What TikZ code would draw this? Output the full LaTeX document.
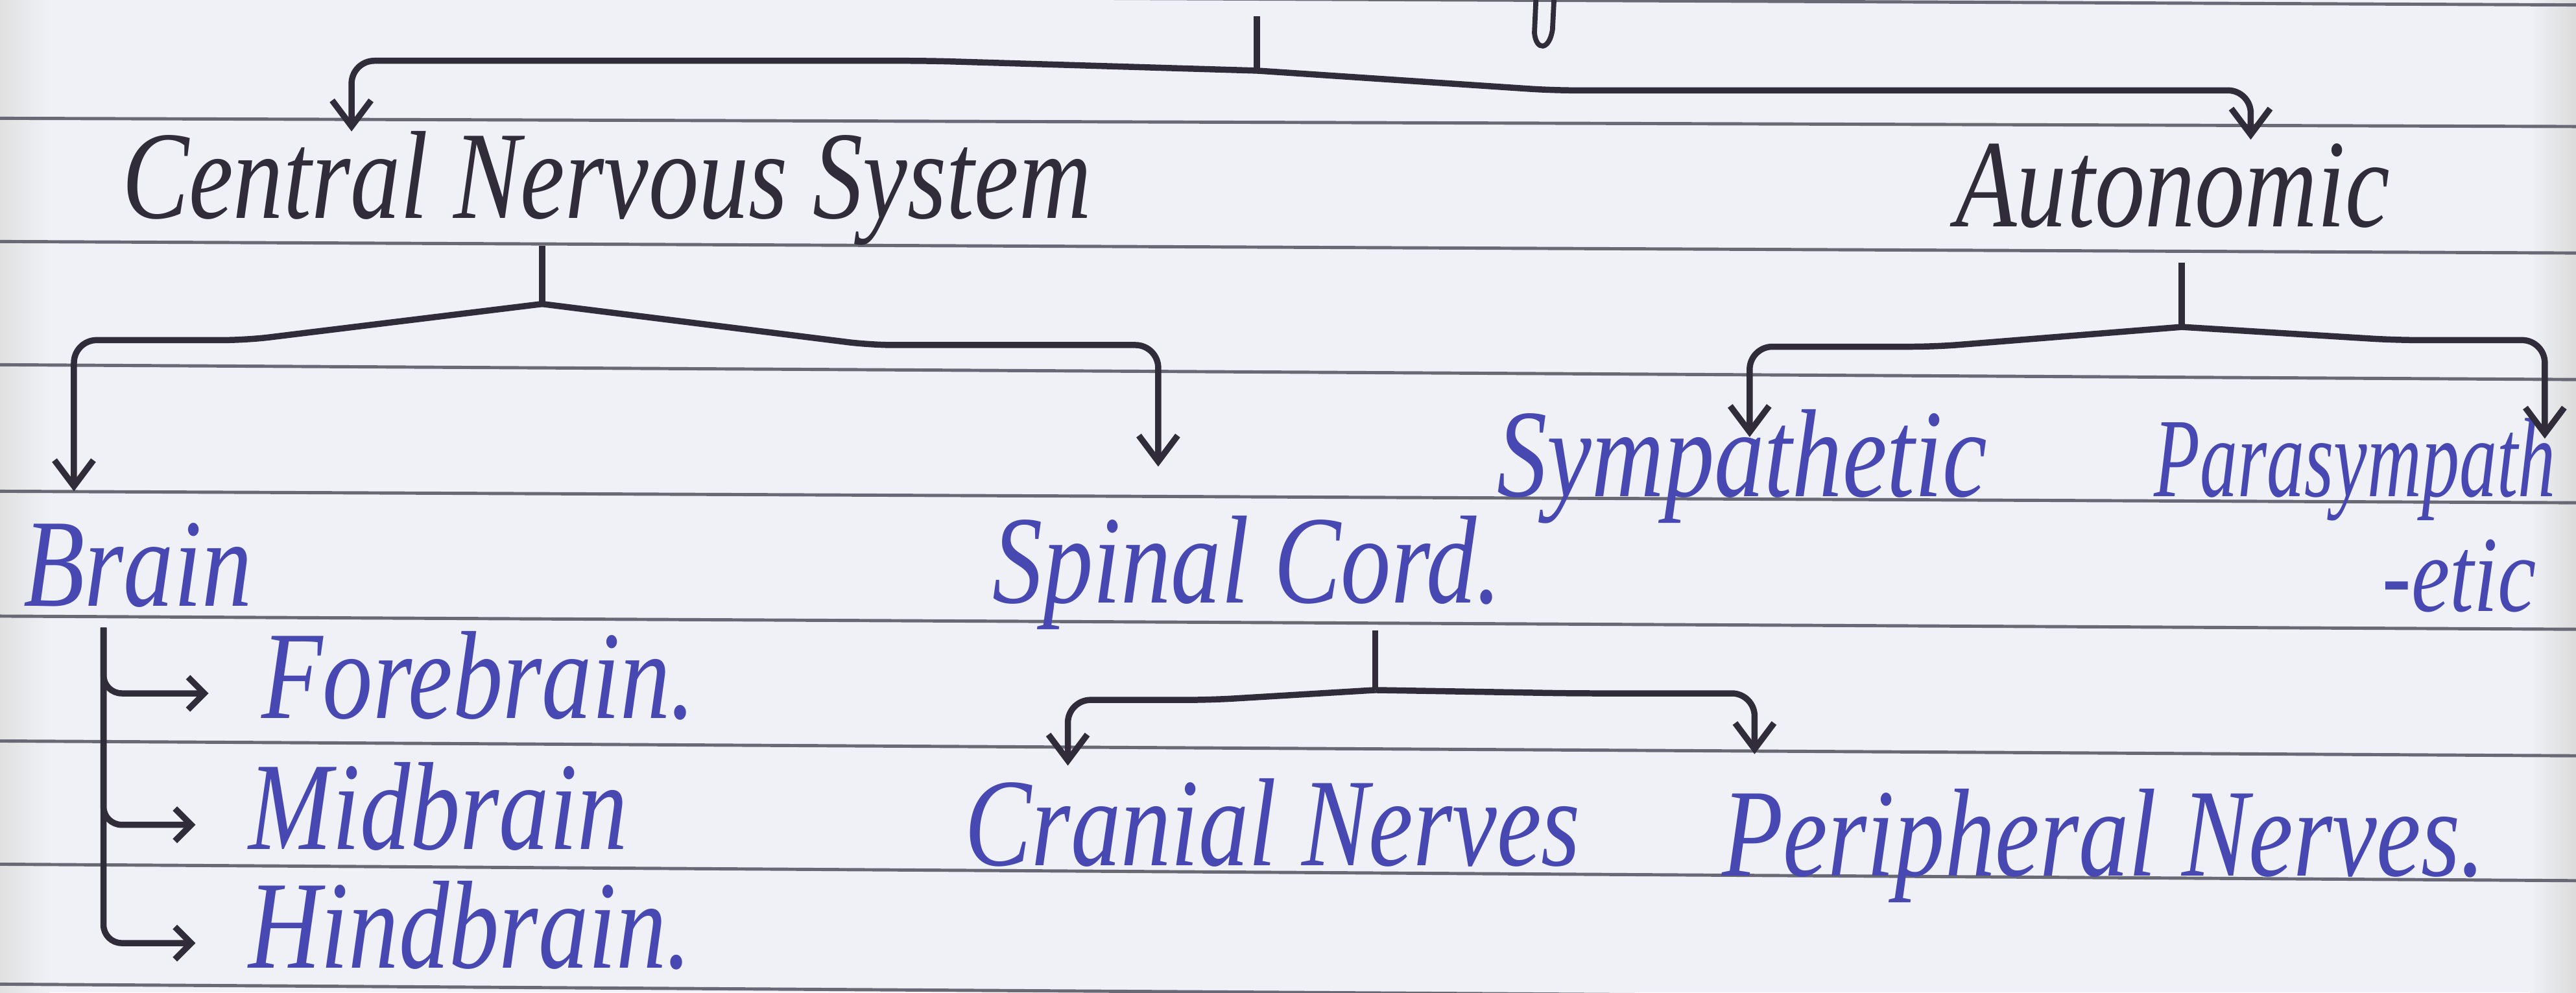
\documentclass[tikz,border=0pt]{standalone}
\usepackage{graphicx}
\usepackage{fontspec}
\setmainfont{Liberation Serif}
\usetikzlibrary{arrows.meta,calc}

\definecolor{paper}{RGB}{239,241,246}
\definecolor{ruling}{RGB}{105,105,118}
\definecolor{pencil}{RGB}{48,44,58}
\definecolor{bluepen}{RGB}{72,72,178}

% handwriting is taller than the font
\newcommand{\tallhand}[1]{\scalebox{1}[1.25]{#1}}

\tikzset{
  hand/.style={font=\fontsize{44}{50}\selectfont\itshape, inner sep=0pt, anchor=base west},
  blackword/.style={hand, text=pencil},
  blueword/.style={hand, text=bluepen},
  stem/.style={draw=pencil, line width=2.7pt},
  branch/.style={stem, rounded corners=10pt, -{Straight Barb[length=4mm,width=6mm]}},
  subbranch/.style={stem, rounded corners=8pt, -{Straight Barb[length=2.5mm,width=5mm]}},
}

\begin{document}
\begin{tikzpicture}[x=0.02533cm, y=-0.02533cm] % units = pixels of the page, y down

        % Page size
        \def\sheetw{1568}
        \def\sheeth{604}

        \useasboundingbox (0,0) rectangle (\sheetw,\sheeth);
        \clip (0,0) rectangle (\sheetw,\sheeth);
        \fill[paper] (0,0) rectangle (\sheetw,\sheeth);
        \shade[left color=black!12, right color=paper] (0,0) rectangle (30,\sheeth);
        \shade[left color=paper, right color=black!14] (1540,0) rectangle (\sheetw,\sheeth);

        % Ruled lines (left end / right end)
        \foreach \yl/\yr in {-4/3, 72/77, 147/154, 222/231, 299/306, 375/383, 451/460, 526/536, 599/609} {
            \draw[ruling, line width=1.4pt] (0,\yl) -- (\sheetw,\yr);
        }

        % stroke of the heading above
        \draw[pencil, line width=2.2pt] (935,-2) -- (934,20) .. controls (935,31) and (943,31) .. (945,18) -- (946,-2);

        % Words
        \node[blackword] (cns) at (74,133) {\tallhand{Central Nervous System}};
        \node[blackword] (auto) at (1190,138) {\tallhand{Autonomic}};
        \node[blueword] (brain) at (14,369) {\tallhand{Brain}};
        \node[blueword] (spinal) at (604,367) {\tallhand{Spinal Cord.}};
        \node[blueword] (symp) at (911,302) {\tallhand{Sympathetic}};
        \node[blueword, font=\fontsize{33}{40}\selectfont\itshape] (para) at (1311,302) {\scalebox{1}[1.5]{Parasympath}};
        \node[blueword, font=\fontsize{38}{46}\selectfont\itshape] (paraend) at (1450,372) {\tallhand{-etic}};
        \node[blueword] (fore) at (159,437) {\tallhand{Forebrain.}};
        \node[blueword] (mid) at (151,517) {\tallhand{Midbrain}};
        \node[blueword] (hind) at (151,589) {\tallhand{Hindbrain.}};
        \node[blueword] (cranial) at (587,527) {\tallhand{Cranial Nerves}};
        \node[blueword] (periph) at (1048,533) {\tallhand{Peripheral Nerves.}};

        % From the heading
        \coordinate (topend) at (765,10);
        \coordinate (topsplit) at (765,43);
        \draw[stem] (topend) -- (topsplit);
        \draw[branch] (topsplit) -- ++(-200,-6) -| ($(cns.base west)+(140,-53)$);
        \draw[branch] (topsplit) -- ++(180,12) -| ($(auto.base west)+(180,-53)$);

        % Central Nervous System
        \coordinate (cnssplit) at ($(cns.base west)+(256,52)$);
        \draw[stem] (cns.south -| cnssplit) -- (cnssplit);
        \draw[branch] (cnssplit) -- ++(-180,22) -| ($(brain.base west)+(31,-70)$);
        \draw[branch] (cnssplit) -- ++(200,25) -| ($(spinal.base west)+(101,-83)$);

        % Autonomic
        \coordinate (autosplit) at ($(auto.base west)+(138,61)$);
        \draw[stem] ($(auto.base west)+(138,22)$) -- (autosplit);
        \draw[branch] (autosplit) -- ++(-150,12) -| ($(symp.base west)+(154,-36)$);
        \draw[branch] (autosplit) -- ++(130,8) -| ($(para.base west)+(238,-35)$);

        % Spinal Cord
        \coordinate (spinalsplit) at ($(spinal.base west)+(233,53)$);
        \draw[stem] (spinal.south -| spinalsplit) -- (spinalsplit);
        \draw[branch] (spinalsplit) -- ++(-100,6) -| ($(cranial.base west)+(63,-61)$);
        \draw[branch] (spinalsplit) -- ++(120,2) -| ($(periph.base west)+(20,-74)$);

        % Brain
        \coordinate (bracetop) at ($(brain.base west)+(49,13)$);
        \foreach \sub in {fore,mid,hind} {
            \draw[subbranch] (bracetop) |- ($(\sub.base west)+(-32,-15)$);
        }

    \end{tikzpicture}
\end{document}
